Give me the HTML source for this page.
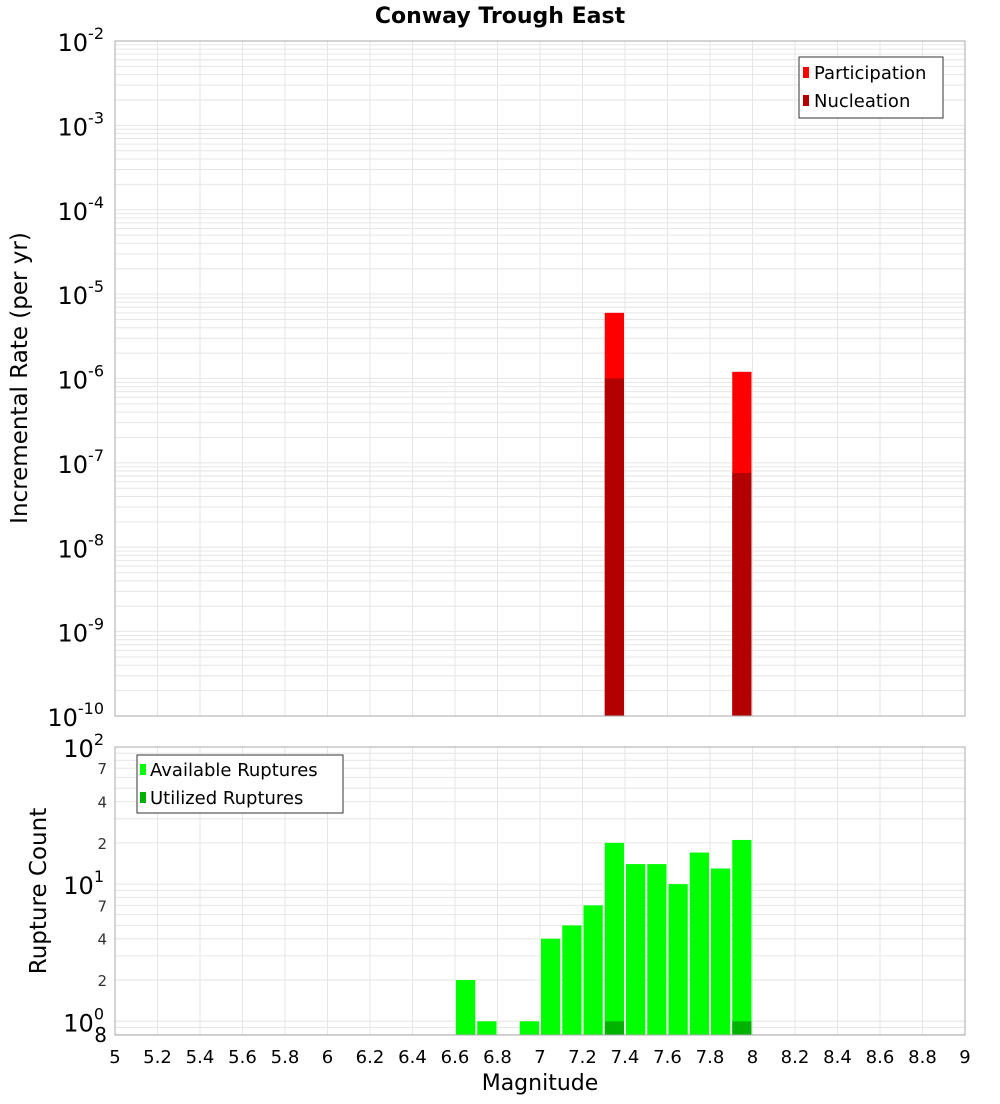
<!DOCTYPE html>
<html><head><meta charset="utf-8"><style>
body{margin:0;background:#fff;font-family:"DejaVu Sans","Liberation Sans",sans-serif}
</style></head><body>
<svg id="chart" width="1000" height="1100" xmlns="http://www.w3.org/2000/svg" font-family="DejaVu Sans, Liberation Sans, sans-serif">
<rect width="1000" height="1100" fill="#fff"/>
<text x="500" y="23" text-anchor="middle" font-size="22" font-weight="bold">Conway Trough East</text>
<g id="topG"></g><g id="botG"></g>
<text transform="translate(27,378) rotate(-90)" text-anchor="middle" font-size="23">Incremental Rate (per yr)</text>
<text transform="translate(46,891) rotate(-90)" text-anchor="middle" font-size="23">Rupture Count</text>
<text x="540" y="1090" text-anchor="middle" font-size="22">Magnitude</text>
</svg>
<script>
const binCenters=[6.65,6.75,6.95,7.05,7.15,7.25,7.35,7.45,7.55,7.65,7.75,7.85,7.95];
const availableCounts=[2,1,1,4,5,7,20,14,14,10,17,13,21];
const utilizedCounts=[0,0,0,0,0,0,1,0,0,0,0,0,1];
const rateMags=[7.35,7.95];
const participationRates=[6e-6,1.2e-6];
const nucleationRates=[1e-6,7.6e-8];
const xTicks=[5,5.2,5.4,5.6,5.8,6,6.2,6.4,6.6,6.8,7,7.2,7.4,7.6,7.8,8,8.2,8.4,8.6,8.8,9];

const NS="http://www.w3.org/2000/svg";
const L=115,R=965;
const xs=m=>L+(m-5)/4*(R-L);
const T1=41,B1=716, yTop=v=>T1+(-2-Math.log10(v))/8*(B1-T1);
const T2=747,B2=1035, yBot=v=>T2+(2-Math.log10(v))/2.1*(B2-T2);
function mk(tag,attrs,parent,name,txt){const e=document.createElementNS(NS,tag);for(const k in attrs)e.setAttribute(k,attrs[k]);


if(txt!==undefined)e.textContent=txt;parent.appendChild(e);return e;}
const topG=document.getElementById('topG'),botG=document.getElementById('botG');

mk('rect',{x:L,y:T1,width:R-L,height:B1-T1,fill:'#fff'},topG,'rate-plot-area');
for(let d=-10;d<-2;d++)for(let k=1;k<10;k++){const yy=yTop(k*Math.pow(10,d));
mk('line',{x1:L,x2:R,y1:yy,y2:yy,stroke:'#e6e6e6','stroke-width':1},topG,'rate-gridline');}
xTicks.forEach(t=>{mk('line',{x1:xs(t),x2:xs(t),y1:T1,y2:B1,stroke:'#e6e6e6'},topG,'rate-vgridline');});
const bw=(xs(5.1)-xs(5))-2;
rateMags.forEach((m,i)=>{
 mk('rect',{x:xs(m)-bw/2,y:yTop(participationRates[i]),width:bw,height:B1-yTop(participationRates[i]),fill:'#ff0000'},topG,'participation-bar');
 mk('rect',{x:xs(m)-bw/2,y:yTop(nucleationRates[i]),width:bw,height:B1-yTop(nucleationRates[i]),fill:'#b30000'},topG,'nucleation-bar');
});
mk('rect',{x:L,y:T1,width:R-L,height:B1-T1,fill:'none',stroke:'#aaa'},topG,'rate-plot-border');
for(let d=-10;d<=-2;d++){const yy=yTop(Math.pow(10,d));
 const t=mk('text',{x:104,y:yy+10,'text-anchor':'end','font-size':24},topG,'rate-tick-label');
 t.innerHTML='10<tspan dy="-12" font-size="16">'+d+'</tspan>';}
mk('rect',{x:799,y:57,width:144,height:61,fill:'#fff',stroke:'#333'},topG,'rate-legend');
mk('rect',{x:803,y:67,width:6,height:11,fill:'#ff0000'},topG,'legend-swatch-participation');
mk('text',{x:814,y:79,'font-size':18},topG,'legend-participation','Participation');
mk('rect',{x:803,y:95,width:6,height:11,fill:'#b30000'},topG,'legend-swatch-nucleation');
mk('text',{x:814,y:107,'font-size':18},topG,'legend-nucleation','Nucleation');

for(let d=-1;d<2;d++)for(let k=1;k<10;k++){const v=k*Math.pow(10,d);if(v<0.8)continue;const yy=yBot(v);
 mk('line',{x1:L,x2:R,y1:yy,y2:yy,stroke:'#e6e6e6'},botG,'count-gridline');}
xTicks.forEach(t=>{mk('line',{x1:xs(t),x2:xs(t),y1:T2,y2:B2,stroke:'#e6e6e6'},botG,'count-vgridline');
 mk('text',{x:xs(t),y:1063,'text-anchor':'middle','font-size':18},botG,'x-tick-label',String(t));});
binCenters.forEach((m,i)=>{
 mk('rect',{x:xs(m)-bw/2,y:yBot(availableCounts[i]),width:bw,height:B2-yBot(availableCounts[i]),fill:'#00ff00'},botG,'available-bar');
 if(utilizedCounts[i]>0)mk('rect',{x:xs(m)-bw/2,y:yBot(utilizedCounts[i]),width:bw,height:B2-yBot(utilizedCounts[i]),fill:'#00b300'},botG,'utilized-bar');
});
mk('rect',{x:L,y:T2,width:R-L,height:B2-T2,fill:'none',stroke:'#aaa'},botG,'count-plot-border');
[0,1,2].forEach(d=>{const yy=yBot(Math.pow(10,d));
 const t=mk('text',{x:104,y:yy+10,'text-anchor':'end','font-size':24},botG,'count-tick-label');
 t.innerHTML='10<tspan dy="-12" font-size="16">'+d+'</tspan>';});
[2,4,7,20,40,70].forEach(v=>{mk('text',{x:107,y:yBot(v)+6,'text-anchor':'end','font-size':15,fill:'#333'},botG,'count-minor-tick-label',String(v).charAt(0));});
mk('text',{x:107,y:1042,'text-anchor':'end','font-size':20},botG,'count-minor-tick-label','8');
mk('rect',{x:137,y:755,width:206,height:58,fill:'#fff',stroke:'#333'},botG,'count-legend');
mk('rect',{x:140,y:764,width:6,height:11,fill:'#00ff00'},botG,'legend-swatch-available');
mk('text',{x:150,y:776,'font-size':18},botG,'legend-available','Available Ruptures');
mk('rect',{x:140,y:792,width:6,height:11,fill:'#00b300'},botG,'legend-swatch-utilized');
mk('text',{x:150,y:804,'font-size':18},botG,'legend-utilized','Utilized Ruptures');
</script>
</body></html>
